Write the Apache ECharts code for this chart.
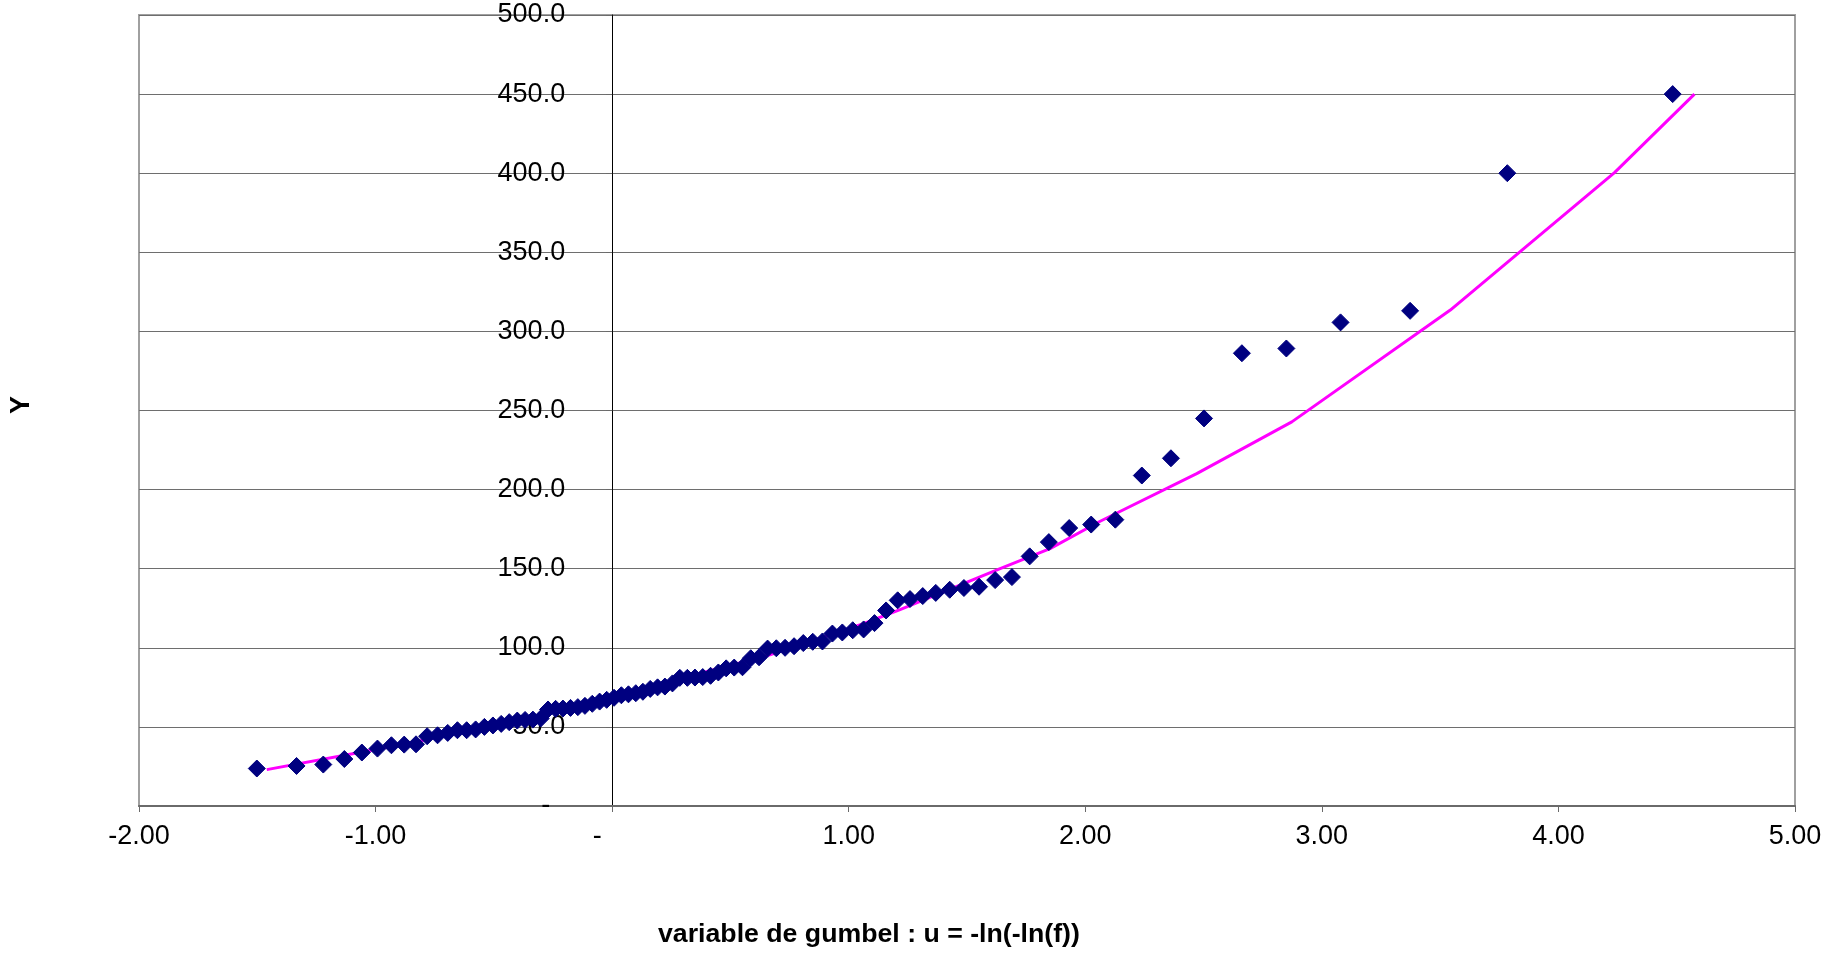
<!DOCTYPE html>
<html>
<head>
<meta charset="utf-8">
<title>Gumbel</title>
<script src="https://cdn.jsdelivr.net/npm/echarts@6/dist/echarts.min.js"></script>
<style>
  html, body { margin: 0; padding: 0; background: #fff; }
  #chart { width: 1832px; height: 961px; }
</style>
</head>
<body>
<div id="chart"></div>
<script>
// variable de gumbel u pour chaque valeur classee
var gumbelU = [
  -1.502, -1.334, -1.221, -1.132, -1.058, -0.992, -0.933, -0.879, -0.829, -0.782,
  -0.738, -0.695, -0.654, -0.615, -0.577, -0.540, -0.504, -0.469, -0.435, -0.401,
  -0.368, -0.335, -0.302, -0.271, -0.239, -0.208, -0.176, -0.145, -0.115, -0.084,
  -0.053, -0.023, 0.008, 0.039, 0.069, 0.100, 0.130, 0.161, 0.192, 0.223,
  0.255, 0.286, 0.318, 0.350, 0.383, 0.416, 0.449, 0.482, 0.516, 0.551,
  0.586, 0.621, 0.657, 0.694, 0.731, 0.769, 0.808, 0.848, 0.889, 0.931,
  0.973, 1.017, 1.063, 1.109, 1.158, 1.207, 1.259, 1.313, 1.368, 1.427,
  1.487, 1.551, 1.619, 1.690, 1.765, 1.846, 1.932, 2.025, 2.127, 2.239,
  2.362, 2.502, 2.662, 2.850, 3.079, 3.373, 3.784, 4.483
];
// valeurs Y observees
var yObs = [
  23.7, 25.3, 26.2, 29.7, 33.8, 36.3, 38.4, 38.8, 39.0, 44.1,
  44.7, 46.2, 47.9, 47.9, 48.4, 50.0, 50.9, 51.9, 53.0, 54.0,
  54.4, 54.6, 55.3, 61.0, 61.4, 61.6, 62.0, 62.5, 63.3, 64.6,
  66.0, 67.1, 68.4, 70.0, 70.6, 71.3, 72.2, 74.0, 75.0, 75.5,
  77.5, 81.0, 81.0, 81.2, 81.5, 82.3, 84.4, 87.0, 87.5, 87.7,
  93.4, 94.0, 99.5, 99.7, 100.0, 101.0, 103.0, 103.8, 104.0, 109.0,
  109.7, 111.1, 111.6, 115.6, 123.6, 130.0, 130.8, 132.7, 134.7, 136.7,
  137.8, 138.6, 142.8, 144.7, 157.8, 166.8, 175.7, 177.9, 181.0, 208.9,
  219.8, 245.0, 286.2, 289.2, 305.7, 313.0, 400.0, 450.0
];
// courbe d'ajustement (rose)
var fitU = [-1.46, -1.08, -0.813, -0.277, 0.414, 0.667, 1.062, 1.217, 1.640, 1.851, 2.063, 2.471, 2.873, 3.543, 4.237, 4.575];
var fitY = [23.0, 33.5, 41.1, 58.5, 85.6, 95.5, 115.2, 124.1, 150.0, 162.7, 180.0, 210.1, 242.8, 313.5, 400.4, 450.0];

var xMin = -2, xMax = 5, xStep = 1;
var yMin = 0, yMax = 500, yStep = 50;

var FONT = '"Liberation Sans", Arial, sans-serif';

// zone de trace
var gridLeft = 139, gridRight = 37, gridTop = 15, gridBottom = 155;
var plotW = 1832 - gridLeft - gridRight;
// l'axe Y coupe l'axe X en u = 0
var yAxisShift = -plotW * (0 - xMin) / (xMax - xMin);

var points = [];
for (var i = 0; i < gumbelU.length; i++) {
  points.push([gumbelU[i], yObs[i]]);
}
var fitLine = [];
for (var j = 0; j < fitU.length; j++) {
  fitLine.push([fitU[j], fitY[j]]);
}

var myChart = echarts.init(document.getElementById('chart'));
myChart.setOption({
  animation: false,
  backgroundColor: '#fff',
  grid: {
    left: gridLeft,
    right: gridRight,
    top: gridTop,
    bottom: gridBottom,
    containLabel: false,
    outerBoundsMode: 'none',
    show: true,
    borderColor: '#a0a0a0',
    borderWidth: 2,
    backgroundColor: 'transparent'
  },
  xAxis: {
    type: 'value',
    min: xMin,
    max: xMax,
    interval: xStep,
    axisLine: { show: true, onZero: false, lineStyle: { color: '#6a6a6a', width: 2 } },
    axisTick: { show: true, inside: false, length: 6, lineStyle: { color: '#6a6a6a', width: 1 } },
    splitLine: { show: false },
    axisLabel: {
      margin: 17,
      color: '#000',
      fontSize: 27,
      fontFamily: FONT,
      formatter: function (v) {
        // format comptable excel : 0 -> "-"
        if (v === 0) return '-    ';
        return v.toFixed(2);
      }
    }
  },
  yAxis: {
    type: 'value',
    min: yMin,
    max: yMax,
    interval: yStep,
    position: 'left',
    offset: yAxisShift,
    axisLine: { show: true, onZero: false, lineStyle: { color: '#000', width: 1 } },
    axisTick: { show: true, inside: false, length: 6, lineStyle: { color: '#6a6a6a', width: 1 } },
    splitLine: { show: true, lineStyle: { color: '#6e6e6e', width: 1 } },
    axisLabel: {
      margin: 47,
      color: '#000',
      fontSize: 27,
      fontFamily: FONT,
      formatter: function (v) {
        if (v === 0) return '-  ';
        return v.toFixed(1);
      }
    }
  },
  graphic: [
    {
      type: 'text',
      left: 658,
      top: 921,
      style: {
        text: 'variable de gumbel : u = -ln(-ln(f))',
        fontSize: 26.7,
        fontWeight: 'bold',
        fontFamily: FONT,
        fill: '#000'
      }
    },
    {
      type: 'text',
      x: 22,
      y: 405,
      rotation: Math.PI / 2,
      style: {
        text: 'Y',
        fontSize: 27,
        fontWeight: 'bold',
        fontFamily: FONT,
        fill: '#000',
        align: 'center',
        verticalAlign: 'middle'
      }
    }
  ],
  series: [
    {
      name: 'ajustement',
      type: 'line',
      data: fitLine,
      symbol: 'none',
      smooth: false,
      lineStyle: { color: '#ff00ff', width: 3 },
      z: 2
    },
    {
      name: 'observations',
      type: 'scatter',
      data: points,
      symbol: 'diamond',
      symbolSize: 17,
      itemStyle: { color: '#000080', opacity: 1, borderColor: '#000080', borderWidth: 1 },
      z: 3
    }
  ]
});
</script>
</body>
</html>
